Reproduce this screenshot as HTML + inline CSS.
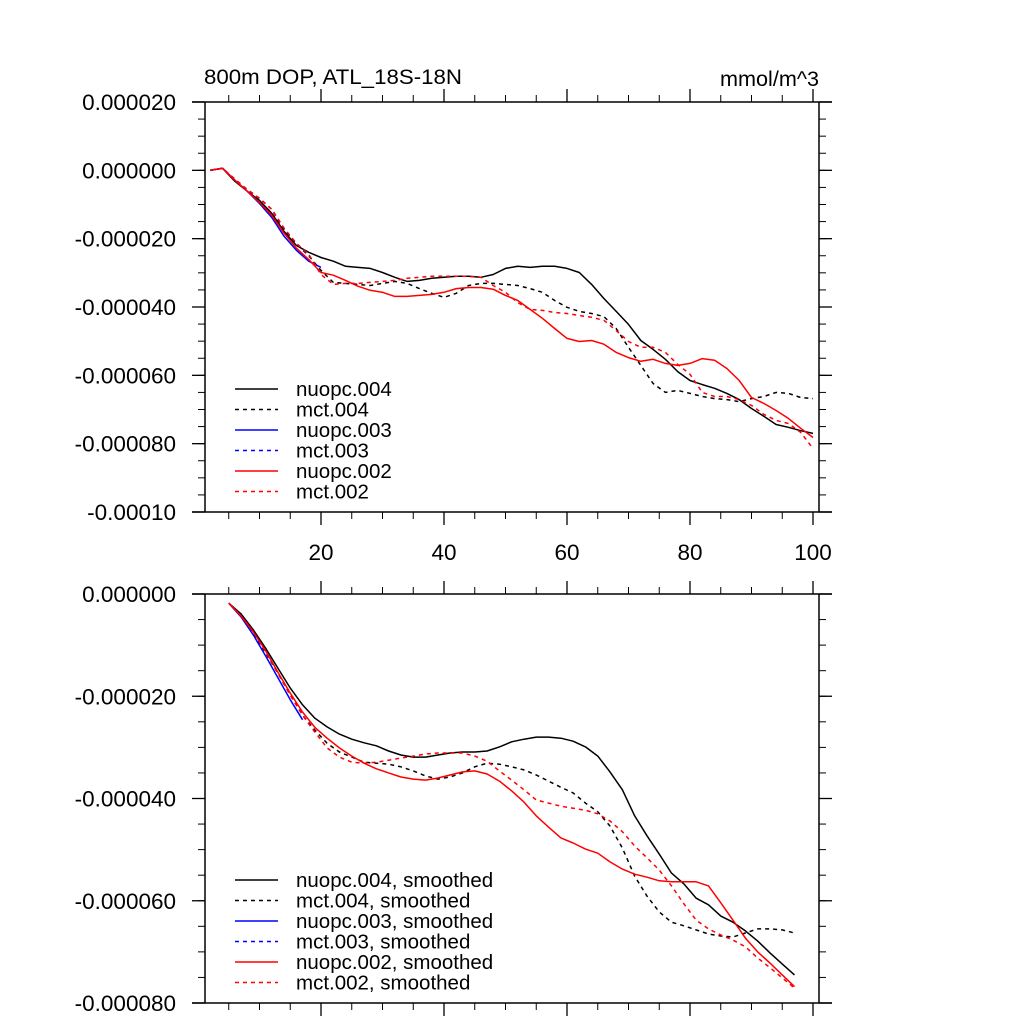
<!DOCTYPE html>
<html><head><meta charset="utf-8">
<style>
html,body{margin:0;padding:0;background:#fff;}
svg{display:block;font-family:"Liberation Sans",sans-serif;}
</style></head>
<body>
<svg id="chart" width="1024" height="1024" viewBox="0 0 1024 1024" xmlns="http://www.w3.org/2000/svg">
<rect x="0" y="0" width="1024" height="1024" fill="#fff"/>
<text x="204" y="84" font-size="21" textLength="258" lengthAdjust="spacingAndGlyphs">800m DOP, ATL_18S-18N</text>
<text x="720" y="86" font-size="21" textLength="99" lengthAdjust="spacingAndGlyphs">mmol/m^3</text>
<g id="top"></g>
<g id="bottom"></g>
</svg>
<script>
// ---- data (values in units of 1e-6 mmol/m^3) ----
const topX = [2,4,6,8,10,12,14,16,18,20,22,24,26,28,30,32,34,36,38,40,42,44,46,48,50,52,54,56,58,60,62,64,66,68,70,72,74,76,78,80,82,84,86,88,90,92,94,96,98,100];
const topNuopc004 = [0,0.6,-3.2,-6.1,-8.8,-12.6,-17.9,-22,-24,-25.5,-26.6,-28.1,-28.4,-28.7,-29.9,-31.3,-32.5,-32.2,-31.6,-31.3,-31,-31,-31.3,-30.5,-28.7,-28.1,-28.4,-28.1,-28.1,-28.7,-29.9,-33.4,-37.5,-41.3,-45.1,-49.8,-52.4,-55.3,-58.9,-61.5,-62.7,-63.8,-65.3,-67.1,-69.7,-72,-74.4,-75.2,-76.2,-77];
const topMct004 = [0,0.6,-2.9,-6,-9,-12.5,-17.5,-21.5,-25,-29.3,-32.8,-33.1,-33.4,-33.7,-33.1,-32.5,-33.1,-34.6,-36,-37.2,-36,-33.7,-33.1,-33.1,-33.4,-33.7,-34.6,-35.7,-38.1,-40.1,-41.3,-41.9,-42.8,-46.3,-51.8,-57.1,-62.4,-65,-64.4,-65.3,-66.2,-66.8,-67.1,-67.7,-66.8,-66.2,-65,-65.3,-66.5,-66.8];
const topNuopc003 = [0,0.6,-2.9,-6.1,-9.7,-13.8,-19.3,-23.4,-26.6,-28.4];
const topMct003 = [0,0.6,-2.6,-5.6,-8.2,-11.4,-17,-21.4,-24.6,-30.5];
const topNuopc002 = [0,0.6,-2.9,-6.1,-9.4,-13.2,-18.4,-22.8,-26.1,-29.9,-30.7,-32.2,-33.9,-35.1,-35.7,-36.9,-36.9,-36.6,-36.3,-35.7,-34.6,-34.3,-34.3,-34.8,-36.6,-38.1,-40.7,-43.3,-46.3,-49.2,-50.1,-49.8,-50.9,-53.3,-54.8,-55.9,-55.3,-56.5,-57.1,-56.5,-55.1,-55.6,-58,-61.5,-66.5,-68.2,-70.3,-72.6,-75.5,-78.2];
const topMct002 = [0,0.6,-2.6,-5.6,-8.2,-11.4,-17,-21.4,-24.6,-30.5,-33.4,-33.1,-33.1,-32.8,-32.5,-32.2,-31.6,-31.3,-31,-31,-31,-31,-31.3,-33.7,-35.7,-38.7,-40.7,-41,-41.6,-41.9,-42.5,-43,-43.9,-46.9,-50.1,-51.8,-51.8,-53.3,-56.8,-59.7,-65,-66.2,-66.2,-67.1,-68.8,-71.4,-73.2,-74.1,-76.7,-81.4];

const botX = [5,7,9,11,13,15,17,19,21,23,25,27,29,31,33,35,37,39,41,43,45,47,49,51,53,55,57,59,61,63,65,67,69,71,73,75,77,79,81,83,85,87,89,91,93,95,97];
const botNuopc004 = [-1.8,-3.9,-7,-10.6,-14.5,-18.4,-21.7,-24.3,-26,-27.4,-28.4,-29.1,-29.7,-30.7,-31.5,-31.9,-31.9,-31.5,-31.1,-30.9,-30.9,-30.7,-29.9,-28.9,-28.4,-28,-28,-28.2,-28.8,-29.9,-31.7,-34.8,-38.3,-43.4,-47.3,-50.9,-54.6,-56.7,-59.5,-60.8,-63,-64.2,-65.9,-67.9,-70.2,-72.4,-74.5];
const botMct004 = [-1.8,-4.1,-7.6,-11.5,-15.5,-19.6,-23.7,-26.6,-29.2,-30.9,-31.9,-32.9,-33.1,-33.3,-33.8,-34.6,-35.6,-36.2,-35.8,-35,-33.8,-33.1,-33.3,-33.8,-34.4,-35.4,-36.6,-37.8,-38.9,-40.9,-42.6,-45.4,-49.7,-55.2,-59.1,-62.2,-64.2,-64.9,-65.7,-66.5,-66.9,-67.1,-66.3,-65.5,-65.5,-65.7,-66.3];
const botNuopc003 = [-1.8,-4.5,-8,-12.1,-16.4,-20.7,-24.6];
const botMct003 = [-1.8,-4.3,-7.4,-11.3,-15.5,-19.8,-23.7,-27];
const botNuopc002 = [-1.8,-4.3,-7.4,-11.1,-15.3,-19.4,-23.1,-26.1,-28.2,-30.1,-31.7,-33.1,-34.2,-35,-35.8,-36.2,-36.4,-36,-35.4,-34.8,-34.6,-35.2,-36.6,-38.5,-40.7,-43.4,-45.6,-47.7,-48.7,-49.9,-50.7,-52.4,-53.8,-54.8,-55.4,-56.1,-56.3,-56.3,-56.3,-57.1,-60.4,-63.8,-67.3,-70,-72.2,-74.5,-76.8];
const botMct002 = [-1.8,-4.3,-7.4,-11.3,-15.5,-19.8,-23.7,-27,-30.1,-31.9,-32.9,-33.1,-32.9,-32.5,-32.1,-31.7,-31.3,-31.1,-31.1,-31.1,-31.7,-32.7,-34.6,-36.4,-38.3,-40.3,-40.9,-41.5,-41.9,-42.3,-43,-44.4,-46.5,-49.3,-51.6,-54,-57.1,-60.6,-63.8,-65.5,-66.7,-67.7,-69,-71.2,-73.1,-75.1,-77.1];

const xTickVals = [20,40,60,80,100];
const topYTicks = [20,0,-20,-40,-60,-80,-100];
const topYLabels = ["0.000020","0.000000","-0.000020","-0.000040","-0.000060","-0.000080","-0.00010"];
const botYTicks = [0,-20,-40,-60,-80];
const botYLabels = ["0.000000","-0.000020","-0.000040","-0.000060","-0.000080"];
const topLegend = ["nuopc.004","mct.004","nuopc.003","mct.003","nuopc.002","mct.002"];
const botLegend = ["nuopc.004, smoothed","mct.004, smoothed","nuopc.003, smoothed","mct.003, smoothed","nuopc.002, smoothed","mct.002, smoothed"];

const NS = "http://www.w3.org/2000/svg";
function mk(parent, tag, attrs){ const e=document.createElementNS(NS,tag); for(const k in attrs) e.setAttribute(k,attrs[k]); parent.appendChild(e); return e; }

const L=205, R=819;
const xScale = v => 321 + (v-20)*6.15;

function drawPanel(g, top, bottom, yMax, yMin, yTicks, yLabels, minorStep, showXLabels, series, legendTexts, legendY0){
  const ys = v => top + (yMax - v)/(yMax-yMin)*(bottom-top);
  for(let v=yMax; v>=yMin-0.001; v-=minorStep){
    const y=ys(v);
    const t1=mk(g,'line',{x1:L-7,y1:y,x2:L,y2:y,stroke:'#000','stroke-width':1});
    
    
    const t2=mk(g,'line',{x1:R,y1:y,x2:R+7,y2:y,stroke:'#000','stroke-width':1});
    
    
  }
  yTicks.forEach((v,i)=>{
    const y=ys(v);
    const a=mk(g,'line',{x1:L-13,y1:y,x2:L,y2:y,stroke:'#000','stroke-width':1.3});
    
    
    const b=mk(g,'line',{x1:R,y1:y,x2:R+13,y2:y,stroke:'#000','stroke-width':1.3});
    
    
    const t=mk(g,'text',{x:176,y:y+8,'font-size':22.5,'text-anchor':'end'});
    t.textContent=yLabels[i];
    
    
  });
  for(let v=5; v<=100; v+=5){
    const x=xScale(v); const major = v%20===0; const len = major?13:7;
    const a=mk(g,'line',{x1:x,y1:bottom,x2:x,y2:bottom+len,stroke:'#000','stroke-width':major?1.3:1});
    
    
    const b=mk(g,'line',{x1:x,y1:top-len,x2:x,y2:top,stroke:'#000','stroke-width':major?1.3:1});
    
    
  }
  if(showXLabels){
    xTickVals.forEach(v=>{
      const t=mk(g,'text',{x:xScale(v),y:bottom+48,'font-size':22.5,'text-anchor':'middle'});
      t.textContent=String(v);
      
      
    });
  }
  const f1=mk(g,'line',{x1:L-13,y1:top,x2:R+13,y2:top,stroke:'#000','stroke-width':1.5});
  
  
  const f2=mk(g,'line',{x1:L-13,y1:bottom,x2:R+13,y2:bottom,stroke:'#000','stroke-width':1.5});
  
  
  const f3=mk(g,'line',{x1:L,y1:top,x2:L,y2:bottom,stroke:'#000','stroke-width':1.5});
  
  
  const f4=mk(g,'line',{x1:R,y1:top,x2:R,y2:bottom,stroke:'#000','stroke-width':1.5});
  
  
  series.forEach(s=>{
    const pts = s.vals.map((v,i)=>xScale(s.xs[i]).toFixed(1)+','+ys(v).toFixed(1)).join(' ');
    const p=mk(g,'polyline',{points:pts,fill:'none',stroke:s.color,'stroke-width':1.5,'stroke-linejoin':'round'});
    if(s.dash) p.setAttribute('stroke-dasharray','4,4');
    
    
  });
  series.forEach((s,i)=>{
    const y = legendY0 + i*20.5;
    const ln=mk(g,'line',{x1:235,y1:y,x2:278,y2:y,stroke:s.color,'stroke-width':1.5});
    if(s.dash) ln.setAttribute('stroke-dasharray','4,4');
    
    
    const t=mk(g,'text',{x:296,y:y+7,'font-size':20.5});
    t.textContent=legendTexts[i];
    
    
  });
}

drawPanel(document.getElementById('top'), 102, 512, 20, -100, topYTicks, topYLabels, 5, true, [
  {name:'nuopc-004',xs:topX,vals:topNuopc004,color:'#000',dash:false},
  {name:'mct-004',xs:topX,vals:topMct004,color:'#000',dash:true},
  {name:'nuopc-003',xs:topX,vals:topNuopc003,color:'#0000ff',dash:false},
  {name:'mct-003',xs:topX,vals:topMct003,color:'#0000ff',dash:true},
  {name:'nuopc-002',xs:topX,vals:topNuopc002,color:'#ff0000',dash:false},
  {name:'mct-002',xs:topX,vals:topMct002,color:'#ff0000',dash:true}
], topLegend, 389);

drawPanel(document.getElementById('bottom'), 594, 1003, 0, -80, botYTicks, botYLabels, 5, false, [
  {name:'nuopc-004-smoothed',xs:botX,vals:botNuopc004,color:'#000',dash:false},
  {name:'mct-004-smoothed',xs:botX,vals:botMct004,color:'#000',dash:true},
  {name:'nuopc-003-smoothed',xs:botX,vals:botNuopc003,color:'#0000ff',dash:false},
  {name:'mct-003-smoothed',xs:botX,vals:botMct003,color:'#0000ff',dash:true},
  {name:'nuopc-002-smoothed',xs:botX,vals:botNuopc002,color:'#ff0000',dash:false},
  {name:'mct-002-smoothed',xs:botX,vals:botMct002,color:'#ff0000',dash:true}
], botLegend, 880);
</script>
</body></html>
